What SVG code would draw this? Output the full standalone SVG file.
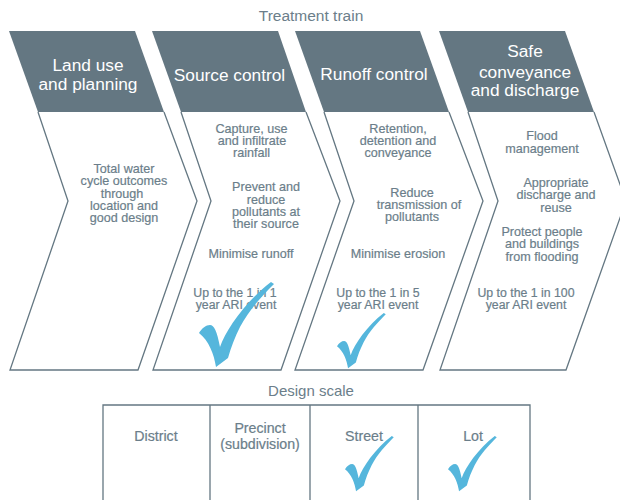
<svg xmlns="http://www.w3.org/2000/svg" width="620" height="500" viewBox="0 0 620 500">
<style>
text{font-family:"Liberation Sans",Arial,sans-serif;text-anchor:middle}
.h{fill:#647782}
.o{fill:#fff;stroke:#647782;stroke-width:1.3;stroke-linejoin:miter}
.ht{fill:#fff;font-size:17.3px}
.b{fill:#6b7e8a;font-size:12.6px;stroke:#6b7e8a;stroke-width:.2}
.u{font-size:12.3px}
.t{fill:#6b7e8a;font-size:15.5px}
.d{fill:#6b7e8a;font-size:14.2px;stroke:#6b7e8a;stroke-width:.2}
.c{fill:#55b6dc}
.l{fill:none;stroke:#647782;stroke-width:1.3}
</style>
<defs>
<path id="tick" d="M0,51 C3,46 7,43 11,43 C15,43 18,49 21,65 C27,48 46,20 72,0 L75,2 C62,15 50,28 41,45 C36,55 32,65 29,76 L17,85 C15,72 10,59 0,51 Z"/>
</defs>
<text class="t" x="311" y="21">Treatment train</text>
<g id="node-land-use">
<path class="o" d="M38,112 L68,201 L10,370 L138,370 L197,201 L164,112"/>
<path class="h" d="M9,31 L135,31 L164,112 L38,112 Z"/>
<text class="ht" x="88" y="71">Land use</text>
<text class="ht" x="88" y="90">and planning</text>
<text class="b" x="124" y="173">Total water</text>
<text class="b" x="124" y="185">cycle outcomes</text>
<text class="b" x="122" y="198">through</text>
<text class="b" x="124" y="210">location and</text>
<text class="b" x="124" y="222">good design</text>
</g>
<g id="node-source-control">
<path class="o" d="M181,112 L211,201 L153,370 L281,370 L340,201 L306,112"/>
<path class="h" d="M152,31 L278,31 L306,112 L181,112 Z"/>
<text class="ht" x="229.500" y="81">Source control</text>
<text class="b" x="251.500" y="133">Capture, use</text>
<text class="b" x="252" y="145">and infiltrate</text>
<text class="b" x="251.500" y="157">rainfall</text>
<text class="b" x="266" y="191">Prevent and</text>
<text class="b" x="266" y="204">reduce</text>
<text class="b" x="266" y="216">pollutants at</text>
<text class="b" x="266" y="228">their source</text>
<text class="b" x="251" y="258">Minimise runoff</text>
<text class="b u" x="235" y="297">Up to the 1 in 1</text>
<text class="b u" x="236" y="309">year ARI event</text>
<use class="c" href="#tick" transform="translate(199,282)"/>
</g>
<g id="node-runoff-control">
<path class="o" d="M324,112 L354,201 L295,370 L423,370 L483,201 L449,112"/>
<path class="h" d="M295,31 L420,31 L449,112 L324,112 Z"/>
<text class="ht" x="374" y="80">Runoff control</text>
<text class="b" x="398" y="133">Retention,</text>
<text class="b" x="398" y="145">detention and</text>
<text class="b" x="398" y="157">conveyance</text>
<text class="b" x="412" y="197">Reduce</text>
<text class="b" x="419" y="209">transmission of</text>
<text class="b" x="412" y="221">pollutants</text>
<text class="b" x="398" y="258">Minimise erosion</text>
<text class="b u" x="378" y="297">Up to the 1 in 5</text>
<text class="b u" x="378" y="309">year ARI event</text>
<use class="c" href="#tick" transform="translate(337,313) scale(.65)"/>
</g>
<g id="node-safe-conveyance">
<path class="o" d="M468,112 L498,201 L440,370 L566,370 L626,201 L594,112"/>
<path class="h" d="M439,31 L565,31 L594,112 L468,112 Z"/>
<text class="ht" x="525" y="57">Safe</text>
<text class="ht" x="525" y="78">conveyance</text>
<text class="ht" x="525" y="96">and discharge</text>
<text class="b" x="542" y="140">Flood</text>
<text class="b" x="542" y="153">management</text>
<text class="b" x="556" y="187">Appropriate</text>
<text class="b" x="556" y="199">discharge and</text>
<text class="b" x="556" y="212">reuse</text>
<text class="b" x="542" y="236">Protect people</text>
<text class="b" x="542" y="248">and buildings</text>
<text class="b" x="542" y="261">from flooding</text>
<text class="b u" x="526" y="297">Up to the 1 in 100</text>
<text class="b u" x="526" y="309">year ARI event</text>
</g>
<text class="t" x="311" y="396" style="font-size:15px">Design scale</text>
<g id="connectors">
<path class="l" d="M103,500 L103,405 L530,405 L530,500 M210,405 L210,500 M310,405 L310,500 M418,405 L418,500"/>
</g>
<g id="node-district"><text class="d" x="156" y="441">District</text></g>
<g id="node-precinct">
<text class="d" x="260" y="433">Precinct</text>
<text class="d" x="260" y="449">(subdivision)</text>
</g>
<g id="node-street">
<text class="d" x="364" y="441">Street</text>
<use class="c" href="#tick" transform="translate(345,436) scale(.65)"/>
</g>
<g id="node-lot">
<text class="d" x="473" y="441">Lot</text>
<use class="c" href="#tick" transform="translate(448,436) scale(.65)"/>
</g>
</svg>
